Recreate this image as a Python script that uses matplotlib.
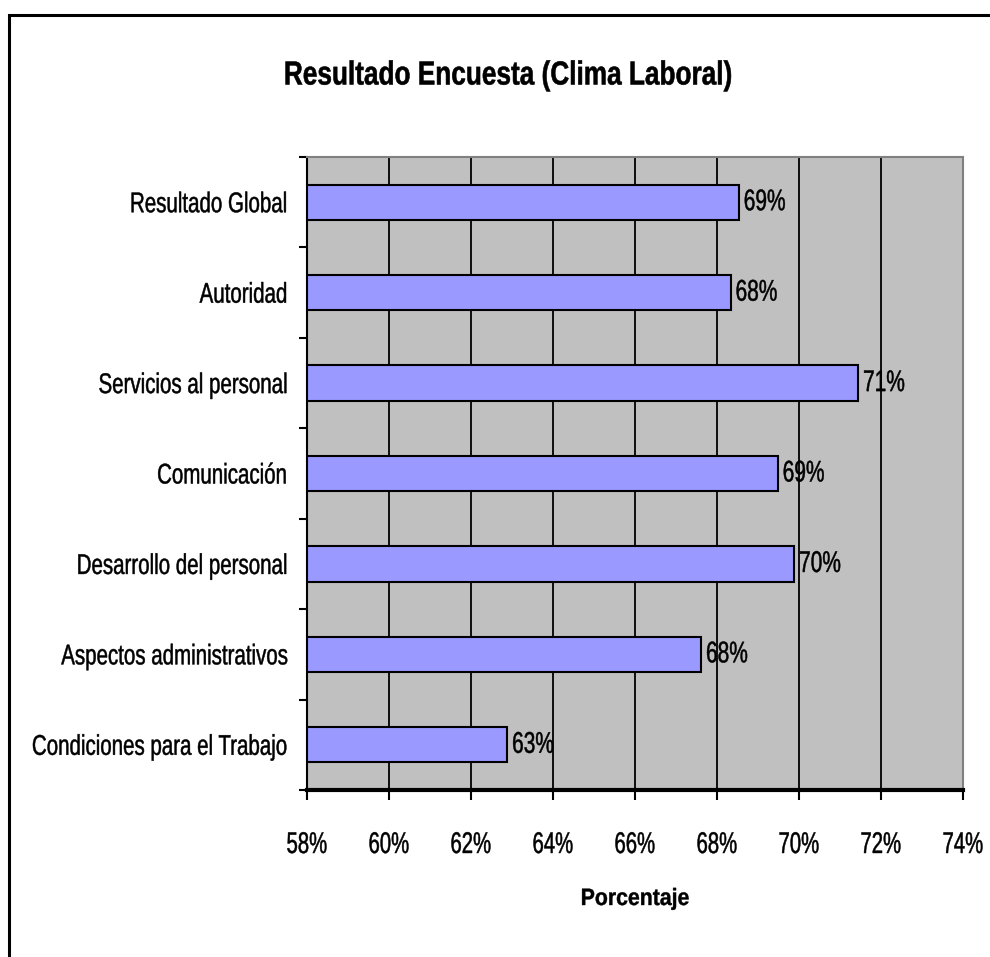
import matplotlib
matplotlib.use("Agg")
import matplotlib.pyplot as plt
from matplotlib.patches import Rectangle
from matplotlib.ticker import FixedLocator, FuncFormatter
from matplotlib.patheffects import AbstractPathEffect
from matplotlib.transforms import Affine2D

categories = ["Resultado Global", "Autoridad", "Servicios al personal", "Comunicación",
              "Desarrollo del personal", "Aspectos administrativos", "Condiciones para el Trabajo"]
values = [68.53, 68.33, 71.44, 69.48, 69.88, 67.61, 62.88]
value_labels = ["69%", "68%", "71%", "69%", "70%", "68%", "63%"]
xticks = [58, 60, 62, 64, 66, 68, 70, 72, 74]

plt.rcParams['font.family'] = ['Liberation Sans', 'DejaVu Sans']


class Condense(AbstractPathEffect):
    """Horizontally squeeze text glyphs (narrow font look) about an anchor."""
    def __init__(self, sx=0.72, anchor=0.0, stroke=0.35):
        super().__init__()
        self.sx = sx
        self.anchor = anchor
        self.stroke = stroke

    def draw_path(self, renderer, gc, tpath, affine, rgbFace=None):
        v = tpath.vertices
        x0 = self.anchor * (v[:, 0].max() if len(v) else 0.0)
        t = Affine2D().translate(-x0, 0).scale(self.sx, 1).translate(x0, 0) + affine
        gc0 = renderer.new_gc()
        gc0.copy_properties(gc)
        gc0.set_linewidth(self.stroke)
        if rgbFace is not None:
            gc0.set_foreground(rgbFace)
        renderer.draw_path(gc0, tpath, t, rgbFace)
        gc0.restore()


fig = plt.figure(figsize=(9.9, 9.57), dpi=100)
fig.patches.append(Rectangle((9/990, -0.05), 1.1, 1 - 15/957 + 0.05, transform=fig.transFigure,
                             fill=False, edgecolor='black', linewidth=2.2))

ax = fig.add_axes([307/990, 1 - 790/957, 656/990, 633/957])
ax.set_facecolor('#C0C0C0')
n = len(categories)
ypos = list(range(n))
ax.barh(ypos, [v - 58 for v in values], left=58, height=0.39, color='#9999FF',
        edgecolor='black', linewidth=1.5, zorder=3)
ax.set_xlim(58, 74)
ax.set_ylim(n - 0.5, -0.5)
ax.set_xticks(xticks)
ax.xaxis.set_major_formatter(FuncFormatter(lambda v, p: f"{v:.0f}%"))
ax.grid(axis='x', color='black', linewidth=1.3, zorder=1)
ax.set_axisbelow(True)

ax.set_yticks(ypos)
ax.set_yticklabels(categories)
ax.yaxis.set_minor_locator(FixedLocator([i - 0.5 for i in range(n + 1)]))
ax.tick_params(axis='y', which='major', length=0, pad=13.7, labelsize=20.5)
ax.tick_params(axis='y', which='minor', length=5.8, width=1.5, direction='out')
ax.tick_params(axis='x', which='major', length=7.5, width=1.5, direction='out', pad=22, labelsize=21.5)

for s in ['top', 'right']:
    ax.spines[s].set_color('#808080')
    ax.spines[s].set_linewidth(1.5)
ax.spines['left'].set_linewidth(1.5)
ax.spines['bottom'].set_linewidth(3)

for lab in ax.get_yticklabels():
    lab.set_path_effects([Condense(0.72, 1.0)])
for lab in ax.get_xticklabels():
    lab.set_path_effects([Condense(0.68, 0.5)])

for y, v, lab in zip(ypos, values, value_labels):
    t = ax.annotate(lab, (v, y), xytext=(3.6, 0), textcoords='offset points',
                    va='center', ha='left', fontsize=21.5, zorder=4)
    t.set_path_effects([Condense(0.70, 0.0)])

title = fig.text(509/990, 1 - 76/957, "Resultado Encuesta (Clima Laboral)", ha='center', va='center',
                 fontsize=24, fontweight='bold')
title.set_path_effects([Condense(0.786, 0.5, 0.4)])
xl = fig.text(635/990, 1 - 887/957, "Porcentaje", ha='center', va='top', fontsize=17, fontweight='bold')
xl.set_path_effects([Condense(0.9, 0.5, 0.3)])

fig.savefig("out.png", dpi=100)
